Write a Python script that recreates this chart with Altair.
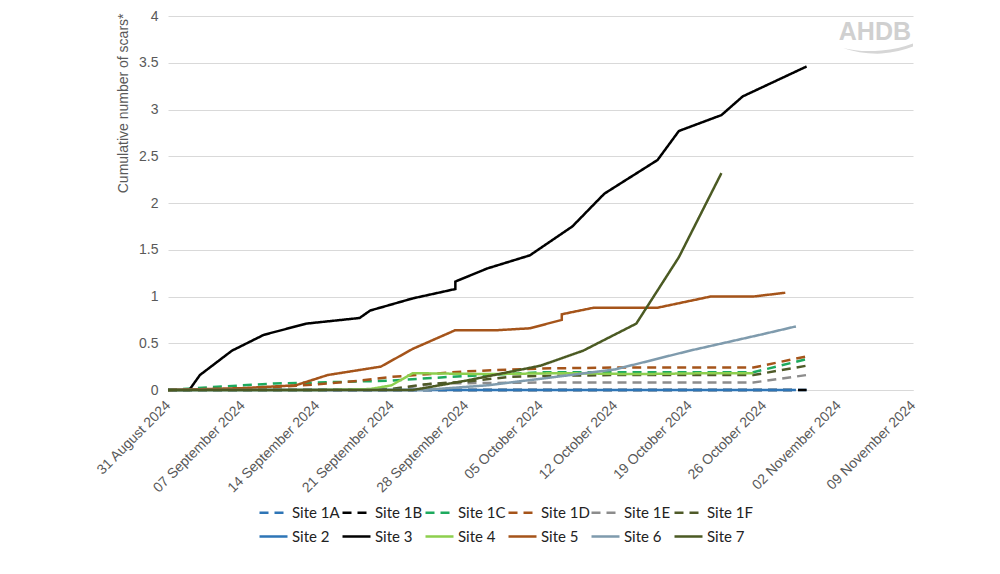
import altair as alt
import pandas as pd

series_names = ["Site 1A", "Site 1B", "Site 1C", "Site 1D", "Site 1E", "Site 1F",
                "Site 2", "Site 3", "Site 4", "Site 5", "Site 6", "Site 7"]
series_colors = ["#2E75B6", "#000000", "#1DAA5E", "#A5541A", "#8C8C8C", "#4F5A28",
                 "#2E75B6", "#000000", "#8DCF4E", "#A5541A", "#7F9BAD", "#4B5A23"]
dashed = [True] * 6 + [False] * 6

site_1a_dates = ["2024-08-31", "2024-09-07", "2024-09-14", "2024-09-21", "2024-09-28",
                 "2024-10-05", "2024-10-12", "2024-10-19", "2024-10-26", "2024-10-30"]
site_1a_values = [0, 0, 0, 0, 0, 0, 0, 0, 0, 0]

site_1b_dates = ["2024-08-31", "2024-09-07", "2024-09-14", "2024-09-21", "2024-09-28",
                 "2024-10-05", "2024-10-12", "2024-10-19", "2024-10-26", "2024-10-30"]
site_1b_values = [0, 0, 0, 0, 0, 0, 0, 0, 0, 0]

site_1c_dates = ["2024-08-31", "2024-09-04", "2024-09-07", "2024-09-10", "2024-09-14",
                 "2024-09-21", "2024-09-25", "2024-09-28", "2024-10-05", "2024-10-12",
                 "2024-10-19", "2024-10-25", "2024-10-30"]
site_1c_values = [0, 0.03, 0.05, 0.07, 0.08, 0.10, 0.13, 0.15, 0.19, 0.19, 0.19, 0.19, 0.33]

site_1d_dates = ["2024-08-31", "2024-09-07", "2024-09-14", "2024-09-18", "2024-09-21",
                 "2024-09-28", "2024-10-05", "2024-10-12", "2024-10-19", "2024-10-25",
                 "2024-10-30"]
site_1d_values = [0, 0.01, 0.06, 0.10, 0.14, 0.20, 0.23, 0.24, 0.24, 0.24, 0.36]

site_1e_dates = ["2024-08-31", "2024-09-14", "2024-09-21", "2024-09-25", "2024-10-05",
                 "2024-10-12", "2024-10-19", "2024-10-25", "2024-10-30"]
site_1e_values = [0, 0, 0, 0.07, 0.08, 0.08, 0.08, 0.08, 0.16]

site_1f_dates = ["2024-08-31", "2024-09-14", "2024-09-21", "2024-09-24", "2024-09-28",
                 "2024-10-02", "2024-10-05", "2024-10-12", "2024-10-19", "2024-10-25",
                 "2024-10-30"]
site_1f_values = [0, 0, 0.01, 0.06, 0.09, 0.14, 0.15, 0.16, 0.16, 0.16, 0.26]

site_2_dates = ["2024-08-31", "2024-09-07", "2024-09-14", "2024-09-21", "2024-09-28",
                "2024-10-05", "2024-10-12", "2024-10-19", "2024-10-26", "2024-10-29"]
site_2_values = [0, 0, 0, 0, 0, 0, 0, 0, 0, 0]

site_3_dates = ["2024-08-31", "2024-09-02", "2024-09-03", "2024-09-06", "2024-09-09",
                "2024-09-13", "2024-09-18", "2024-09-19", "2024-09-23", "2024-09-27",
                "2024-09-27", "2024-09-30", "2024-10-04", "2024-10-08", "2024-10-11",
                "2024-10-16", "2024-10-18", "2024-10-22", "2024-10-24", "2024-10-30"]
site_3_values = [0, 0, 0.16, 0.42, 0.59, 0.71, 0.77, 0.85, 0.98, 1.08,
                 1.16, 1.30, 1.44, 1.75, 2.10, 2.46, 2.77, 2.94, 3.14, 3.46]

site_4_dates = ["2024-08-31", "2024-09-07", "2024-09-14", "2024-09-19", "2024-09-21",
                "2024-09-23", "2024-09-30", "2024-10-07", "2024-10-14", "2024-10-21",
                "2024-10-25"]
site_4_values = [0, 0, 0, 0.01, 0.05, 0.18, 0.17, 0.18, 0.17, 0.18, 0.18]

site_5_dates = ["2024-08-31", "2024-09-07", "2024-09-12", "2024-09-15", "2024-09-20",
                "2024-09-23", "2024-09-27", "2024-10-01", "2024-10-04", "2024-10-07",
                "2024-10-07", "2024-10-10", "2024-10-16", "2024-10-21", "2024-10-25",
                "2024-10-28"]
site_5_values = [0, 0.02, 0.05, 0.16, 0.25, 0.44, 0.64, 0.64, 0.66, 0.75,
                 0.81, 0.88, 0.88, 1.00, 1.00, 1.04]

site_6_dates = ["2024-08-31", "2024-09-07", "2024-09-14", "2024-09-21", "2024-09-24",
                "2024-09-30", "2024-10-05", "2024-10-12", "2024-10-19", "2024-10-26",
                "2024-10-29"]
site_6_values = [0, 0, 0, 0, 0, 0.05, 0.12, 0.22, 0.42, 0.60, 0.68]

site_7_dates = ["2024-08-31", "2024-09-07", "2024-09-14", "2024-09-21", "2024-09-23",
                "2024-09-28", "2024-10-05", "2024-10-09", "2024-10-14", "2024-10-18",
                "2024-10-22"]
site_7_values = [0, 0, 0, 0, 0, 0.10, 0.26, 0.42, 0.71, 1.42, 2.32]

tick_dates = [(2024, 8, 31), (2024, 9, 7), (2024, 9, 14), (2024, 9, 21), (2024, 9, 28),
              (2024, 10, 5), (2024, 10, 12), (2024, 10, 19), (2024, 10, 26),
              (2024, 11, 2), (2024, 11, 9)]

all_dates = [site_1a_dates, site_1b_dates, site_1c_dates, site_1d_dates, site_1e_dates,
             site_1f_dates, site_2_dates, site_3_dates, site_4_dates, site_5_dates,
             site_6_dates, site_7_dates]
all_values = [site_1a_values, site_1b_values, site_1c_values, site_1d_values,
              site_1e_values, site_1f_values, site_2_values, site_3_values,
              site_4_values, site_5_values, site_6_values, site_7_values]

rows = []
for name, ds, vs in zip(series_names, all_dates, all_values):
    for i, (d, v) in enumerate(zip(ds, vs)):
        rows.append({"series": name, "date": d, "value": v, "idx": i})
df = pd.DataFrame(rows)

dash_range = [[9, 6] if d else [1, 0] for d in dashed]


def dt(t):
    return alt.DateTime(year=t[0], month=t[1], date=t[2], utc=True)


axis_font = "Liberation Sans"
grey_text = "#595959"


def make_legend():
    return alt.Legend(orient="none", legendX=90, legendY=481,
                      columns=6, direction="horizontal",
                      symbolType="stroke", symbolSize=784,
                      symbolStrokeWidth=2.5, labelFont="Lato",
                      labelFontSize=15, labelColor="#222222",
                      labelOffset=3, gridAlign="all",
                      columnPadding=-4, rowPadding=-3, padding=0,
                      title=None)


lines = alt.Chart(df).mark_line(strokeWidth=2.5).encode(
    x=alt.X("date:T",
            scale=alt.Scale(type="utc", domain=[dt(tick_dates[0]), dt(tick_dates[-1])]),
            axis=alt.Axis(values=[dt(t) for t in tick_dates], format="%d %B %Y",
                          labelAngle=-45, labelAlign="right", labelBaseline="middle",
                          labelPadding=13, labelFont=axis_font, labelFontSize=14,
                          labelColor=grey_text, ticks=False, tickSize=0, grid=False,
                          domain=True, domainColor="#D9D9D9", domainWidth=1,
                          title=None, labelOverlap=False, labelFlush=False)),
    y=alt.Y("value:Q",
            scale=alt.Scale(domain=[0, 4], nice=False),
            axis=alt.Axis(values=[0, 0.5, 1, 1.5, 2, 2.5, 3, 3.5, 4], format=".1~f",
                          labelFont=axis_font, labelFontSize=14, labelColor=grey_text,
                          labelPadding=10, ticks=False, tickSize=0, domain=False,
                          grid=True, gridColor="#D9D9D9", gridWidth=1,
                          title="Cumulative number of scars*", titleFont=axis_font,
                          titleFontSize=14, titleFontWeight="normal", titleColor=grey_text,
                          titleAngle=-90, titleAlign="right", titleBaseline="bottom",
                          titleX=-38, titleY=-3)),
    color=alt.Color("series:N",
                    scale=alt.Scale(domain=series_names, range=series_colors),
                    legend=make_legend()),
    strokeDash=alt.StrokeDash("series:N",
                              scale=alt.Scale(domain=series_names, range=dash_range),
                              legend=make_legend()),
    order=alt.Order("idx:Q"),
)

logo_df = pd.DataFrame({"t": ["AHDB"]})
logo = alt.Chart(logo_df).mark_text(
    font="Liberation Sans", fontSize=25, fontWeight="bold", color="#D0D0D0",
    align="right", baseline="middle"
).encode(x=alt.value(743), y=alt.value(16), text="t:N")

swoosh_path = ("M -1,0 Q -0.5,0.13 0.1,0.07 Q 0.6,0.02 1,-0.13 "
               "L 1,-0.04 Q 0.6,0.12 0.1,0.16 Q -0.5,0.18 -1,0 Z")
swoosh = alt.Chart(logo_df).mark_point(
    shape=swoosh_path, filled=True, size=4900, color="#D6D6D6", opacity=1,
    strokeWidth=0
).encode(x=alt.value(710), y=alt.value(32))

chart = alt.layer(lines, logo, swoosh).properties(
    width=745, height=374,
    autosize=alt.AutoSizeParams(type="none"),
    padding={"left": 160, "top": 8, "right": 70, "bottom": 160},
).configure_view(stroke=None)

chart.save("out.html", embed_options={"renderer": "svg", "actions": False})
